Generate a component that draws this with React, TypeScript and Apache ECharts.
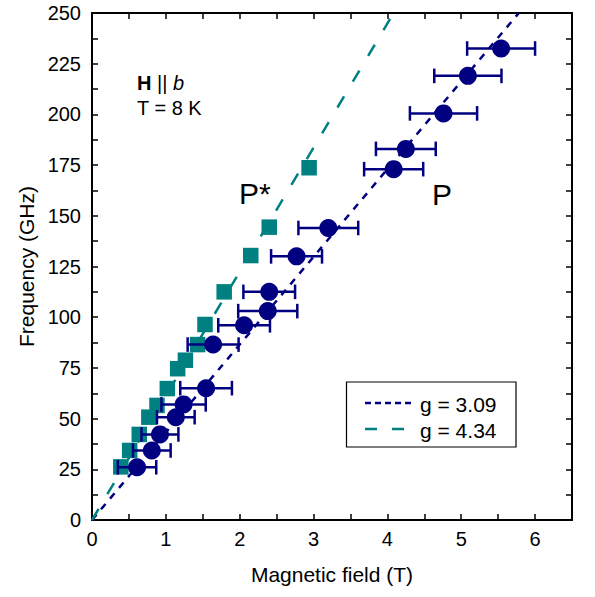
import React, { useEffect, useRef } from "react";
import * as echarts from "echarts";

// ---- data ----
const pField = [0.61, 0.81, 0.92, 1.135, 1.24, 1.545, 1.64, 2.06, 2.38, 2.4, 2.77, 3.2, 4.085, 4.25, 4.76, 5.09, 5.54];
const pFreq = [26, 34.3, 42.2, 50.7, 57, 65, 86.5, 96, 103, 112.5, 130, 144, 173, 183, 200.5, 219, 232.5];
const pErr = [0.26, 0.255, 0.25, 0.255, 0.3, 0.35, 0.345, 0.35, 0.4, 0.35, 0.345, 0.405, 0.4, 0.405, 0.455, 0.455, 0.46];

const sField = [0.39, 0.51, 0.64, 0.77, 0.88, 1.02, 1.16, 1.265, 1.43, 1.53, 1.79, 2.15, 2.4, 2.94];
const sFreq = [26.2, 34.3, 42.2, 50.7, 56.5, 64.8, 74.6, 78.8, 86.5, 96.4, 112.5, 130.4, 144.4, 173.7];

// fit lines (g = 3.09 and g = 4.34), endpoints
const fitP = [[0, 0], [5.78, 250]];
const fitPStar = [[0, 0], [4.085, 250]];
const legendNames = ["g = 3.09", "g = 4.34"];

const xMin = 0, xMax = 6.5, xInterval = 1;
const yMin = 0, yMax = 250, yInterval = 25;

const NAVY = "#000080";
const TEAL = "#008080";
const FONT = "'Liberation Sans', Arial, sans-serif";

export default function App() {
  const ref = useRef<HTMLDivElement>(null);
  useEffect(() => {
    if (!ref.current) return;
    const chart = echarts.init(ref.current, null, { renderer: "svg" });
    const tickCommon = {
      axisLine: { show: true, onZero: false, lineStyle: { color: "#000", width: 2 } },
      axisTick: { show: true, inside: true, length: 6, lineStyle: { color: "#000", width: 1.5 } },
      minorTick: { show: true, splitNumber: 2, length: 6, lineStyle: { color: "#000", width: 1.5 } },
      splitLine: { show: false },
      minorSplitLine: { show: false },
    };
    const xCommon = { type: "value", min: xMin, max: xMax, interval: xInterval, ...tickCommon };
    const yCommon = { type: "value", min: yMin, max: yMax, interval: yInterval, ...tickCommon };
    const errData = pField.map((x, i) => [x, pFreq[i], pErr[i]]);
    const option: any = {
      animation: false,
      textStyle: { fontFamily: FONT },
      grid: { left: 92, right: 23, top: 13, bottom: 77, containLabel: false },
      xAxis: [
        {
          ...xCommon,
          position: "bottom",
          name: "Magnetic field (T)",
          nameLocation: "middle",
          nameGap: 44,
          nameTextStyle: { fontSize: 21, color: "#000", fontFamily: FONT },
          axisLabel: {
            show: true,
            fontSize: 20,
            color: "#000",
            margin: 9,
            fontFamily: FONT,
            showMaxLabel: false,
            formatter: (v: number) => (Number.isInteger(v) ? String(v) : ""),
          },
        },
        { ...xCommon, position: "top", axisLabel: { show: false } },
      ],
      yAxis: [
        {
          ...yCommon,
          position: "left",
          name: "Frequency (GHz)",
          nameLocation: "middle",
          nameGap: 51,
          nameTextStyle: { fontSize: 21, color: "#000", fontFamily: FONT },
          axisLabel: { show: true, fontSize: 20, color: "#000", margin: 11, fontFamily: FONT },
        },
        { ...yCommon, position: "right", axisLabel: { show: false } },
      ],
      series: [
        {
          type: "line",
          data: fitP,
          symbol: "none",
          z: 1,
          lineStyle: { color: NAVY, width: 2.5, type: [7, 7] },
        },
        {
          type: "line",
          data: fitPStar,
          symbol: "none",
          z: 1,
          lineStyle: { color: TEAL, width: 2.5, type: [13, 17] },
        },
        {
          type: "scatter",
          data: sField.map((x, i) => [x, sFreq[i]]),
          symbol: "rect",
          symbolSize: 15.5,
          itemStyle: { color: TEAL, opacity: 1 },
          z: 2,
        },
        {
          type: "custom",
          data: errData,
          z: 3,
          renderItem: (params: any, api: any) => {
            const x = api.value(0);
            const y = api.value(1);
            const e = api.value(2);
            const a = api.coord([x - e, y]);
            const b = api.coord([x + e, y]);
            const h = 7.3;
            const st = { stroke: NAVY, lineWidth: 2.5 };
            return {
              type: "group",
              children: [
                { type: "line", shape: { x1: a[0], y1: a[1], x2: b[0], y2: b[1] }, style: st },
                { type: "line", shape: { x1: a[0], y1: a[1] - h, x2: a[0], y2: a[1] + h }, style: st },
                { type: "line", shape: { x1: b[0], y1: b[1] - h, x2: b[0], y2: b[1] + h }, style: st },
              ],
            };
          },
        },
        {
          type: "scatter",
          data: pField.map((x, i) => [x, pFreq[i]]),
          symbol: "circle",
          symbolSize: 18,
          itemStyle: { color: NAVY, opacity: 1 },
          z: 4,
        },
      ],
      graphic: [
        {
          type: "text",
          x: 137,
          y: 83,
          style: {
            text: "{b|H} || {i|b}",
            fontSize: 20,
            fontFamily: FONT,
            fill: "#000",
            verticalAlign: "middle",
            rich: {
              b: { fontWeight: "bold", fontSize: 20, fontFamily: FONT, fill: "#000" },
              i: { fontStyle: "italic", fontSize: 20, fontFamily: FONT, fill: "#000" },
            },
          },
        },
        {
          type: "text",
          x: 137,
          y: 108,
          style: { text: "T = 8 K", fontSize: 20, fontFamily: FONT, fill: "#000", verticalAlign: "middle" },
        },
        {
          type: "text",
          x: 239,
          y: 193,
          style: { text: "P*", fontSize: 30, fontFamily: FONT, fill: "#000", verticalAlign: "middle" },
        },
        {
          type: "text",
          x: 432,
          y: 194,
          style: { text: "P", fontSize: 30, fontFamily: FONT, fill: "#000", verticalAlign: "middle" },
        },
        {
          type: "rect",
          shape: { x: 346.5, y: 382, width: 169.5, height: 65 },
          style: { fill: "#fff", stroke: "#000", lineWidth: 1.2 },
          z: 10,
        },
        {
          type: "line",
          shape: { x1: 365, y1: 403, x2: 415, y2: 403 },
          style: { stroke: NAVY, lineWidth: 2.5, lineDash: [6, 4] },
          z: 11,
        },
        {
          type: "line",
          shape: { x1: 365, y1: 429, x2: 418, y2: 429 },
          style: { stroke: TEAL, lineWidth: 2.5, lineDash: [12, 15] },
          z: 11,
        },
        {
          type: "text",
          x: 420,
          y: 404,
          style: { text: legendNames[0], fontSize: 21, fontFamily: FONT, fill: "#000", verticalAlign: "middle" },
          z: 11,
        },
        {
          type: "text",
          x: 420,
          y: 430,
          style: { text: legendNames[1], fontSize: 21, fontFamily: FONT, fill: "#000", verticalAlign: "middle" },
          z: 11,
        },
      ],
    };
    chart.setOption(option);
    return () => chart.dispose();
  }, []);
  return (
    <div
      ref={ref}
      style={{ position: "fixed", left: 0, top: 0, width: 595, height: 597, background: "#fff" }}
    />
  );
}
